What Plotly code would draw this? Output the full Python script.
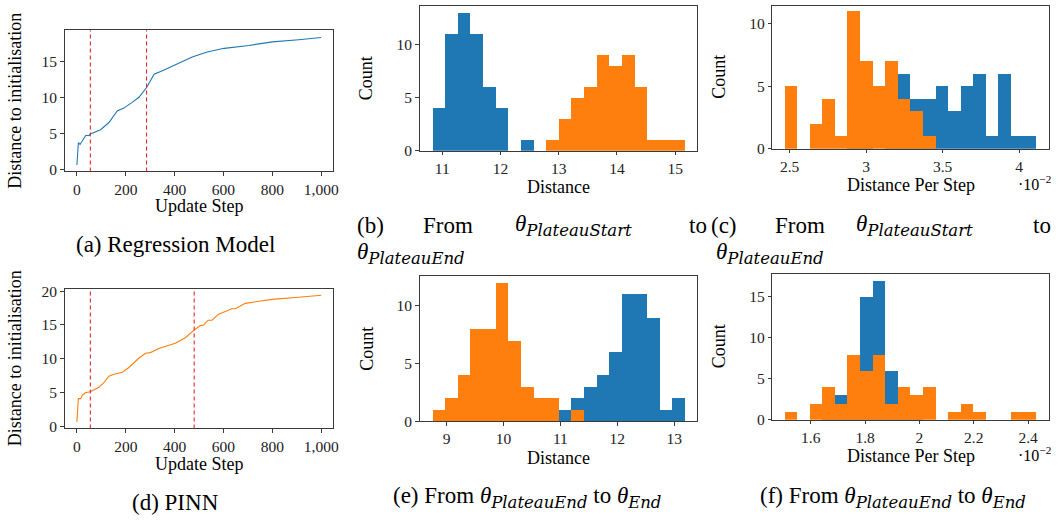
import numpy as np
import plotly.graph_objects as go

W, H = 1058, 525

# ---------------- data ----------------
# (a) Regression model: distance to initialisation vs update step
reg_step = [0, 6, 13, 22, 36, 50, 55, 97, 131, 165, 192, 226, 254, 286, 316, 350, 377, 397,
            472, 533, 603, 704, 800, 908, 1000]
reg_dist = [0.6, 3.7, 3.45, 3.9, 4.7, 4.7, 4.9, 5.5, 6.5, 8.1, 8.5, 9.3, 10.0, 11.4, 13.2, 13.7,
            14.1, 14.5, 15.6, 16.3, 16.8, 17.2, 17.7, 18.0, 18.3]
reg_plateau = [55, 285]

# (d) PINN
pinn_step = [0, 6, 16, 22, 34, 55, 90, 111, 131, 152, 186, 213, 254, 281, 301, 335, 403, 444,
             482, 505, 519, 537, 553, 580, 635, 649, 689, 737, 799, 908, 1000]
pinn_dist = [0.63, 4.08, 4.08, 4.57, 4.95, 5.1, 5.75, 6.5, 7.4, 7.7, 8.0, 8.7, 10.1, 10.8, 10.9,
             11.5, 12.3, 13.1, 14.3, 14.9, 15.0, 15.7, 15.7, 16.6, 17.4, 17.4, 18.2, 18.5, 18.8,
             19.1, 19.4]
pinn_plateau = [55, 480]

# histograms: 20 shared bins between lo and hi
# (b) distance PlateauStart -> PlateauEnd
b_lo, b_hi = 10.83, 15.165
b_reg = [4, 11, 13, 11, 6, 4, 0, 1, 0, 0, 0, 0, 0, 0, 0, 0, 0, 0, 0, 0]
b_pinn = [0, 0, 0, 0, 0, 0, 0, 0, 0, 1, 3, 5, 6, 9, 8, 9, 6, 1, 1, 1]
# (c) distance per step PlateauStart -> PlateauEnd
c_lo, c_hi = 0.024696, 0.04113
c_reg = [0, 0, 0, 0, 0, 2, 3, 0, 3, 6, 4, 4, 5, 3, 5, 6, 1, 6, 1, 1]
c_pinn = [5, 0, 2, 4, 1, 11, 7, 5, 7, 4, 3, 1, 0, 0, 0, 0, 0, 0, 0, 0]
# (e) distance PlateauEnd -> End
e_lo, e_hi = 8.75, 13.186
e_reg = [0, 0, 0, 0, 0, 0, 0, 0, 0, 0, 1, 2, 3, 4, 6, 11, 11, 9, 1, 2]
e_pinn = [1, 2, 4, 8, 8, 12, 7, 3, 2, 2, 0, 1, 0, 0, 0, 0, 0, 0, 0, 0]
# (f) distance per step PlateauEnd -> End
f_lo, f_hi = 0.01505, 0.024306
f_reg = [0, 0, 0, 1, 3, 5, 15, 17, 6, 2, 1, 0, 0, 0, 0, 0, 0, 0, 0, 0]
f_pinn = [1, 0, 2, 4, 2, 8, 6, 8, 2, 4, 3, 4, 0, 1, 2, 1, 0, 0, 1, 1]

c_ticks = [0.025, 0.03, 0.035, 0.04]
c_ticktext = ["2.5", "3", "3.5", "4"]
f_ticks = [0.016, 0.018, 0.020, 0.022, 0.024]
f_ticktext = ["1.6", "1.8", "2", "2.2", "2.4"]
step_ticks = [0, 200, 400, 600, 800, 1000]
step_ticktext = ["0", "200", "400", "600", "800", "1,000"]

BLUE = "#1f77b4"
ORANGE = "#ff7f0e"
RED = "#e8262a"
FONT = "Liberation Serif"

# ---------------- layout helpers ----------------
def px(x):
    return x / W

def py(y):
    return 1 - y / H

fig = go.Figure()

# panel boxes in pixels: (left, right, top, bottom)
boxes = {
    1: (65, 335, 25, 170),
    2: (421.7, 700.7, 0.0, 148.7),
    3: (776, 1054, 0.0, 146.7),
    4: (65, 335, 290.7, 434),
    5: (421.7, 700.7, 277.3, 426.7),
    6: (776, 1054, 275, 425),
}

def ax_name(i, kind):
    return kind + ("" if i == 1 else str(i))

def ref(i, kind):
    return kind[0] + ("" if i == 1 else str(i))

axis_common = dict(showline=True, mirror=True, linecolor="#3a3a3a", linewidth=1,
                   ticks="outside", ticklen=3.5, tickcolor="#3a3a3a", showgrid=False,
                   zeroline=False, tickfont=dict(family=FONT, size=15.5, color="#222"))

layout = {}
for i, (l, r, t, b) in boxes.items():
    layout[ax_name(i, "xaxis")] = dict(domain=[px(l), px(r)], anchor=ref(i, "y"), **axis_common)
    layout[ax_name(i, "yaxis")] = dict(domain=[py(b), min(1.0, py(t))], anchor=ref(i, "x"), **axis_common)

# ranges / ticks
layout["xaxis"].update(range=[-50, 1050], tickvals=step_ticks, ticktext=step_ticktext)
layout["yaxis"].update(range=[-0.3, 19.3], tickvals=[0, 5, 10, 15])
layout["xaxis4"].update(range=[-50, 1050], tickvals=step_ticks, ticktext=step_ticktext)
layout["yaxis4"].update(range=[-0.34, 20.34], tickvals=[0, 5, 10, 15, 20])

def margin_range(lo, hi):
    m = (hi - lo) * 0.05
    return [lo - m, hi + m]

layout["xaxis2"].update(range=margin_range(b_lo, b_hi), tickvals=[11, 12, 13, 14, 15])
layout["yaxis2"].update(range=[0, 13.65], tickvals=[0, 5, 10])
layout["xaxis3"].update(range=margin_range(c_lo, c_hi), tickvals=c_ticks, ticktext=c_ticktext)
layout["yaxis3"].update(range=[0, 146.7 / 12.83], tickvals=[0, 5, 10])
layout["xaxis5"].update(range=margin_range(e_lo, e_hi), tickvals=[9, 10, 11, 12, 13])
layout["yaxis5"].update(range=[0, 12.6], tickvals=[0, 5, 10])
layout["xaxis6"].update(range=margin_range(f_lo, f_hi), tickvals=f_ticks, ticktext=f_ticktext)
layout["yaxis6"].update(range=[0, 17.85], tickvals=[0, 5, 10, 15])

# ---------------- traces ----------------
def add_line(i, xs, ys, color, plateau):
    fig.add_trace(go.Scatter(x=xs, y=ys, mode="lines", line=dict(color=color, width=1.1),
                             xaxis=ref(i, "x"), yaxis=ref(i, "y"), showlegend=False))
    for p in plateau:
        fig.add_shape(type="line", x0=p, x1=p, y0=0, y1=1, xref=ref(i, "x"),
                      yref=ref(i, "y") + " domain", line=dict(color=RED, width=1.1, dash="4px,3px"))

add_line(1, reg_step, reg_dist, BLUE, reg_plateau)
add_line(4, pinn_step, pinn_dist, ORANGE, pinn_plateau)

def add_hist(i, lo, hi, reg, pinn):
    edges = np.linspace(lo, hi, len(reg) + 1)
    centers = (edges[:-1] + edges[1:]) / 2
    wdt = edges[1] - edges[0]
    for counts, color in ((reg, BLUE), (pinn, ORANGE)):
        fig.add_trace(go.Bar(x=centers, y=counts, width=wdt, marker=dict(color=color, line=dict(width=0)),
                             xaxis=ref(i, "x"), yaxis=ref(i, "y"), showlegend=False))

add_hist(2, b_lo, b_hi, b_reg, b_pinn)
add_hist(3, c_lo, c_hi, c_reg, c_pinn)
add_hist(5, e_lo, e_hi, e_reg, e_pinn)
add_hist(6, f_lo, f_hi, f_reg, f_pinn)

# ---------------- text ----------------
ann = []

def text(x, y, s, size=18, angle=0, xanchor="center", yanchor="middle"):
    ann.append(dict(x=px(x), y=py(y), xref="paper", yref="paper", text=s, showarrow=False,
                    textangle=angle, xanchor=xanchor, yanchor=yanchor,
                    font=dict(family=FONT, size=size, color="black")))

# axis titles
text(15, 97.5, "Distance to initialisation", angle=-90)
text(200, 205, "Update Step")
text(15, 362, "Distance to initialisation", angle=-90)
text(200, 471, "Update Step")
text(368, 74, "Count", angle=-90)
text(561, 186, "Distance")
text(722, 73, "Count", angle=-90)
text(915, 184, "Distance Per Step")
text(1039, 182, "·10<sup>−2</sup>", size=16)
text(368, 352, "Count", angle=-90)
text(561, 464, "Distance")
text(722, 350, "Count", angle=-90)
text(915, 462, "Distance Per Step")
text(1039, 460, "·10<sup>−2</sup>", size=16)

# captions
CS = 23
SUBSTYLE = "font-family:'DejaVu Serif';font-style:italic;font-size:16.5px"

def theta(sub):
    return "<i>θ</i><sub><span style=\"" + SUBSTYLE + "\">" + sub + "</span></sub>"

th_start = theta("PlateauStart")
th_pend = theta("PlateauEnd")
th_end = theta("End")
text(176, 245, "(a) Regression Model", size=CS)
text(176, 510, "(d) PINN", size=CS)

text(357, 225, "(b)", size=CS, xanchor="left")
text(423, 225, "From", size=CS, xanchor="left")
text(515, 225, th_start, size=CS, xanchor="left")
text(690, 225, "to", size=CS, xanchor="left")
text(357, 254, th_pend, size=CS, xanchor="left")

text(712, 225, "(c)", size=CS, xanchor="left")
text(777, 225, "From", size=CS, xanchor="left")
text(858, 225, th_start, size=CS, xanchor="left")
text(1036, 225, "to", size=CS, xanchor="left")
text(717, 254, th_pend, size=CS, xanchor="left")

text(530, 505, "(e) From " + th_pend + " to " + th_end, size=CS)
text(897, 505, "(f) From " + th_pend + " to " + th_end, size=CS)

fig.update_layout(width=W, height=H, margin=dict(l=0, r=0, t=0, b=0),
                  paper_bgcolor="white", plot_bgcolor="white",
                  barmode="overlay", bargap=0, annotations=ann,
                  font=dict(family=FONT), **layout)

fig.write_html("out.html")
